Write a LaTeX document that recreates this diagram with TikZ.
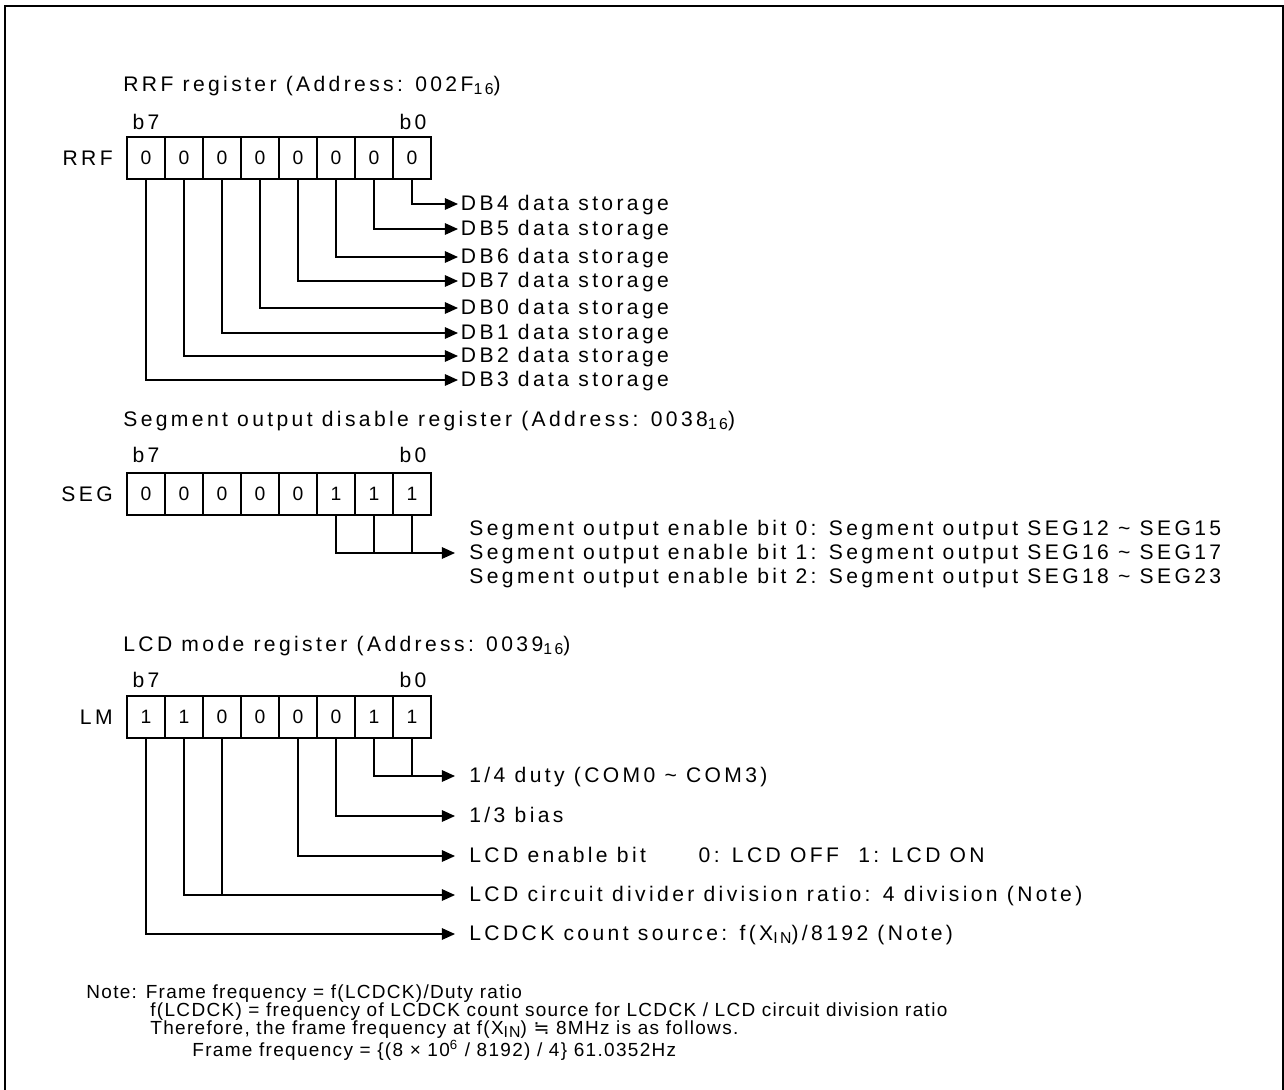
\documentclass[tikz,border=0pt]{standalone}
\usepackage{fontspec}
\setmainfont{Liberation Sans}[LetterSpace=16]
\newfontfamily\notefont{Liberation Sans}[LetterSpace=7]
\newfontfamily\symfont{DejaVu Sans}
\usetikzlibrary{arrows.meta,positioning,calc}

\newcommand{\hexsub}[1]{\raisebox{-0.25ex}{\fontsize{9}{10}\selectfont #1}}
\newcommand{\xin}{X\hexsub{IN}}

\begin{document}
\begin{tikzpicture}[x=0.02cm,y=-0.02cm,
    cell/.style={draw,line width=0.8pt,minimum width=0.76cm,minimum height=0.84cm,
      inner sep=0pt,font=\fontsize{11}{13}\selectfont},
    lbl/.style={anchor=west,inner sep=1.5pt,text height=8.6pt,text depth=1pt,
      font=\fontsize{12}{14}\selectfont},
    lblfar/.style={lbl,inner xsep=8pt},
    regname/.style={anchor=east,inner sep=0pt,font=\fontsize{12}{14}\selectfont},
    bitno/.style={inner sep=0pt,font=\fontsize{12}{14}\selectfont},
    notetxt/.style={anchor=west,inner sep=0pt,font=\notefont\fontsize{10.8}{12}\selectfont},
    arr/.style={line width=0.8pt,-{Triangle[length=7.5pt,width=6.6pt]}},
    wire/.style={line width=0.8pt}]
  \useasboundingbox (0,0) rectangle (1284,1089);
  \draw[line width=1.6pt] (5,1095) -- (5,6) -- (1283,6) -- (1283,1095);

  % RRF register
  \node[lbl,inner sep=0pt] (rrftitle) at (123,85) {RRF register (Address: 002F\hexsub{16})};
  \node[bitno] (rrfb7) at (146,122) {b7};
  \node[bitno] (rrfb0) at (413,122) {b0};
  \node[regname] (rrfname) at (113,158) {RRF};
  \foreach \b in {0,...,7}{
    \node[cell] (rrf\b) at ({146+38*(7-\b)},158) {0};
  }
  \foreach \b/\yy/\d in {0/204/4,1/229/5,2/257/6,3/281/7,4/308/0,5/333/1,6/356/2,7/380/3}{
    \node[lbl] (rrfd\b) at (458,\yy) {DB\d\ data storage};
    \draw[arr] (rrf\b.south) |- (rrfd\b.west);
  }

  % Segment output disable register
  \node[lbl,inner sep=0pt] (segtitle) at (123,420) {Segment output disable register (Address: 0038\hexsub{16})};
  \node[bitno] (segb7) at (146,455) {b7};
  \node[bitno] (segb0) at (413,455) {b0};
  \node[regname] (segname) at (113,494) {SEG};
  \foreach \b/\v in {7/0,6/0,5/0,4/0,3/0,2/1,1/1,0/1}{
    \node[cell] (seg\b) at ({146+38*(7-\b)},494) {\v};
  }
  \node[lblfar] (segt0) at (455,529) {Segment output enable bit 0: Segment output SEG12 \textasciitilde{} SEG15};
  \node[lblfar] (segt1) at (455,553) {Segment output enable bit 1: Segment output SEG16 \textasciitilde{} SEG17};
  \node[lblfar] (segt2) at (455,577) {Segment output enable bit 2: Segment output SEG18 \textasciitilde{} SEG23};
  \draw[arr] (seg2.south) |- (segt1.west);
  \draw[wire] (seg1.south) -- (seg1.south |- segt1.west);
  \draw[wire] (seg0.south) -- (seg0.south |- segt1.west);

  % LCD mode register
  \node[lbl,inner sep=0pt] (lmtitle) at (123,645) {LCD mode register (Address: 0039\hexsub{16})};
  \node[bitno] (lmb7) at (146,680) {b7};
  \node[bitno] (lmb0) at (413,680) {b0};
  \node[regname] (lmname) at (113,717) {LM};
  \foreach \b/\v in {7/1,6/1,5/0,4/0,3/0,2/0,1/1,0/1}{
    \node[cell] (lm\b) at ({146+38*(7-\b)},717) {\v};
  }
  \node[lblfar] (lmt0) at (455,776) {1/4 duty (COM0 \textasciitilde{} COM3)};
  \node[lblfar] (lmt2) at (455,816) {1/3 bias};
  \node[lblfar] (lmt3) at (455,856) {LCD enable bit\hspace{30pt}0: LCD OFF\hspace{11pt}1: LCD ON};
  \node[lblfar] (lmt5) at (455,895) {LCD circuit divider division ratio: 4 division (Note)};
  \node[lblfar] (lmt7) at (455,934) {LCDCK count source: f(\xin)/8192 (Note)};
  \draw[arr] (lm1.south) |- (lmt0.west);
  \draw[wire] (lm0.south) -- (lm0.south |- lmt0.west);
  \draw[arr] (lm2.south) |- (lmt2.west);
  \draw[arr] (lm3.south) |- (lmt3.west);
  \draw[arr] (lm6.south) |- (lmt5.west);
  \draw[wire] (lm5.south) -- (lm5.south |- lmt5.west);
  \draw[arr] (lm7.south) |- (lmt7.west);

  % note
  \node[notetxt] (note1) at (86,994) {Note: Frame frequency = f(LCDCK)/Duty ratio};
  \node[notetxt] (note2) at (150,1012) {f(LCDCK) = frequency of LCDCK count source for LCDCK / LCD circuit division ratio};
  \node[notetxt] (note3) at (150,1030) {Therefore, the frame frequency at f(\xin) {\symfont ≒} 8MHz is as follows.};
  \node[notetxt] (note4) at (192,1050) {Frame frequency = \{(8 × 10\textsuperscript{6} / 8192) / 4\} 61.0352Hz};
\end{tikzpicture}
\end{document}
